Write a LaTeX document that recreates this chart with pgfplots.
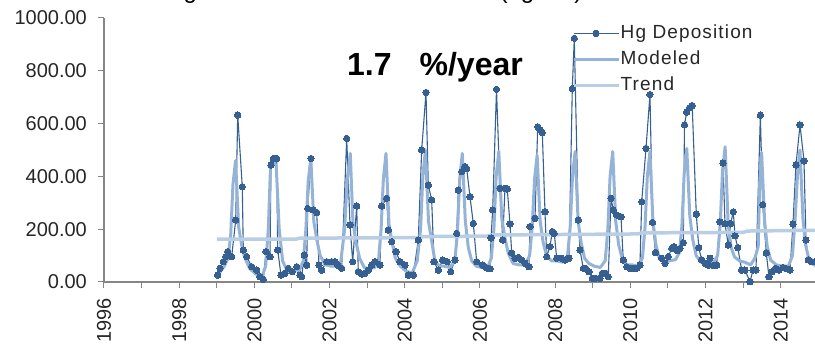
\documentclass[border=0pt]{standalone}
\usepackage{fontspec}
\setmainfont{Liberation Sans}
\usepackage{pgfplots}
\pgfplotsset{compat=1.18}
\definecolor{obs}{HTML}{376092}
\definecolor{mod}{HTML}{95B3D7}
\definecolor{trd}{HTML}{B9CDE5}
\definecolor{axg}{HTML}{868686}
\definecolor{txt}{HTML}{262626}
\begin{document}
\begin{tikzpicture}[x=1pt,y=1pt]
\useasboundingbox (0,0) rectangle (815,344);
\clip (0,0) rectangle (815,344);
\node[anchor=base west, font=\fontsize{24}{28}\selectfont, inner sep=0pt] at (166,345) {Hg Wet Flux Trend at the Sites (ng/m2)};
\begin{axis}[
  at={(104pt,62pt)}, anchor=south west,
  scale only axis, width=711pt, height=264pt,
  xmin=1996, xmax=2014.91, ymin=0, ymax=1000,
  axis lines=left, axis line style={-, axg, line width=1.1pt},
  enlargelimits=false,
  tick align=outside, major tick length=6pt,
  tick style={axg, line width=1pt},
  xtick={1996,1997,...,2014},
  xticklabels={1996,,1998,,2000,,2002,,2004,,2006,,2008,,2010,,2012,,2014},
  ytick={0,200,400,600,800,1000},
  yticklabels={0.00,200.00,400.00,600.00,800.00,1000.00},
  tick label style={font=\fontsize{20}{24}\selectfont, text=txt, inner sep=0pt},
  xticklabel style={yshift=-10pt, rotate=90, anchor=east},
  yticklabel style={anchor=east, xshift=-11pt},
  legend style={at={(0.6582,0.977)}, anchor=north west, draw=none, fill=none,
    inner sep=0pt, row sep=8pt,
    font=\fontsize{19}{22}\selectfont\addfontfeature{LetterSpace=6},
    text=txt,
    nodes={inner sep=0pt, text height=14pt, text depth=4pt},
    /tikz/every odd column/.append style={column sep=0pt}},
  legend image code/.code={\draw[mark repeat=2,mark phase=2,#1] plot coordinates {(0pt,0pt)(22pt,0pt)(45pt,0pt)};},
  legend cell align=left,
]
\addplot[color=obs, line width=1.1pt, mark=*, mark size=3.2pt, mark options={fill=obs, draw=obs, line width=0pt}] table {
1999.024 26
1999.085 52
1999.173 77
1999.237 96
1999.290 115
1999.396 96
1999.503 235
1999.556 632
1999.678 361
1999.705 121
1999.795 96
1999.928 58
2000.061 45
2000.149 20
2000.237 10
2000.309 115
2000.415 96
2000.441 443
2000.503 468
2000.593 468
2000.620 121
2000.707 26
2000.814 33
2000.902 52
2001.008 39
2001.125 58
2001.213 26
2001.258 20
2001.327 102
2001.391 64
2001.418 279
2001.505 468
2001.567 273
2001.657 263
2001.718 64
2001.790 45
2001.923 77
2002.056 77
2002.144 77
2002.215 64
2002.322 52
2002.455 544
2002.543 216
2002.614 77
2002.721 288
2002.763 39
2002.854 30
2002.941 33
2003.029 45
2003.120 64
2003.207 77
2003.340 64
2003.386 288
2003.519 317
2003.561 197
2003.652 153
2003.766 115
2003.872 77
2004.005 64
2004.093 26
2004.226 26
2004.359 159
2004.449 500
2004.564 718
2004.625 367
2004.715 311
2004.777 77
2004.891 45
2005.008 83
2005.130 77
2005.221 39
2005.335 83
2005.380 184
2005.423 348
2005.513 418
2005.601 437
2005.646 430
2005.734 323
2005.822 222
2005.912 77
2006.072 64
2006.178 53
2006.266 50
2006.293 167
2006.338 273
2006.439 730
2006.532 355
2006.604 159
2006.665 355
2006.726 352
2006.798 220
2006.843 110
2006.931 90
2007.019 93
2007.109 83
2007.197 71
2007.303 58
2007.330 210
2007.463 241
2007.535 588
2007.596 576
2007.657 566
2007.729 266
2007.774 96
2007.862 134
2007.923 191
2007.976 184
2008.040 90
2008.173 90
2008.261 83
2008.367 90
2008.455 733
2008.508 923
2008.614 235
2008.660 121
2008.747 52
2008.811 52
2008.899 39
2008.987 14
2009.077 14
2009.191 14
2009.253 33
2009.343 33
2009.412 20
2009.484 317
2009.545 273
2009.636 254
2009.750 247
2009.811 83
2009.902 58
2009.989 52
2010.077 52
2010.168 52
2010.255 64
2010.301 304
2010.415 506
2010.521 710
2010.588 226
2010.668 112
2010.832 90
2010.920 71
2011.008 96
2011.098 127
2011.160 134
2011.247 119
2011.319 127
2011.407 149
2011.439 595
2011.497 643
2011.572 660
2011.644 668
2011.753 257
2011.819 130
2011.896 84
2011.984 71
2012.072 64
2012.117 90
2012.205 62
2012.295 64
2012.383 228
2012.463 450
2012.516 221
2012.604 140
2012.668 222
2012.737 266
2012.782 175
2012.856 130
2012.960 45
2013.048 45
2013.181 1
2013.261 45
2013.340 45
2013.457 632
2013.519 293
2013.614 110
2013.686 20
2013.771 39
2013.859 52
2013.952 45
2014.059 55
2014.157 50
2014.245 45
2014.324 219
2014.404 443
2014.511 595
2014.617 459
2014.670 159
2014.731 84
2014.822 77
2014.910 77
};
\addlegendentry{Hg Deposition}
\addplot[color=mod, line width=3pt, line join=round] table {
1999.02 25
1999.20 60
1999.30 90
1999.37 180
1999.43 370
1999.50 460
1999.58 210
1999.66 140
1999.75 90
1999.88 50
2000.04 30
2000.20 20
2000.30 60
2000.37 200
2000.43 440
2000.50 460
2000.58 440
2000.66 200
2000.75 80
2000.88 40
2001.04 45
2001.20 45
2001.30 80
2001.37 200
2001.43 380
2001.50 470
2001.58 230
2001.66 160
2001.75 100
2001.88 65
2002.04 60
2002.20 60
2002.30 80
2002.40 200
2002.47 390
2002.55 487
2002.62 230
2002.70 150
2002.80 90
2002.92 55
2003.04 50
2003.20 55
2003.30 80
2003.37 200
2003.43 390
2003.50 487
2003.58 220
2003.66 150
2003.75 90
2003.88 60
2004.04 40
2004.20 35
2004.33 80
2004.42 200
2004.48 400
2004.55 500
2004.63 230
2004.71 160
2004.80 80
2004.92 60
2005.04 60
2005.20 55
2005.33 80
2005.40 185
2005.46 390
2005.53 487
2005.61 230
2005.69 130
2005.78 80
2005.90 60
2006.04 55
2006.20 55
2006.30 90
2006.37 200
2006.43 400
2006.50 494
2006.58 240
2006.66 170
2006.75 110
2006.88 70
2007.04 65
2007.20 65
2007.32 100
2007.39 210
2007.45 390
2007.52 480
2007.60 230
2007.68 150
2007.77 100
2007.90 80
2008.04 80
2008.20 75
2008.33 100
2008.40 210
2008.46 400
2008.53 494
2008.61 230
2008.69 150
2008.78 90
2008.90 70
2009.04 60
2009.20 55
2009.33 80
2009.40 200
2009.46 400
2009.53 494
2009.61 230
2009.69 140
2009.78 90
2009.90 65
2010.04 65
2010.20 60
2010.32 90
2010.39 210
2010.45 400
2010.52 494
2010.60 230
2010.68 140
2010.77 90
2010.90 75
2011.04 80
2011.20 85
2011.30 110
2011.37 210
2011.43 410
2011.50 506
2011.58 250
2011.66 160
2011.75 100
2011.88 75
2012.04 70
2012.20 70
2012.32 100
2012.39 222
2012.45 420
2012.52 512
2012.60 220
2012.68 130
2012.77 95
2012.90 80
2013.04 75
2013.20 65
2013.31 90
2013.40 134
2013.44 380
2013.49 490
2013.57 230
2013.64 134
2013.73 83
2013.88 65
2014.04 60
2014.20 60
2014.31 100
2014.38 235
2014.45 420
2014.51 500
2014.59 240
2014.66 140
2014.75 85
2014.88 65
2014.99 60
};
\addlegendentry{Modeled}
\addplot[color=trd, line width=3.5pt] table {
1999.00 162
2001.10 162
2001.20 166
2004.40 168
2004.50 172
2006.20 174
2006.30 178
2010.20 182
2010.30 186
2013.00 188
2013.10 193
2014.99 196
};
\addlegendentry{Trend}
\node[anchor=base west, font=\fontsize{32}{36}\selectfont\bfseries, inner sep=0pt, text=black] at (axis cs:2002.463,784) {1.7\hspace{28pt}\%/year};
\end{axis}
\end{tikzpicture}
\end{document}
